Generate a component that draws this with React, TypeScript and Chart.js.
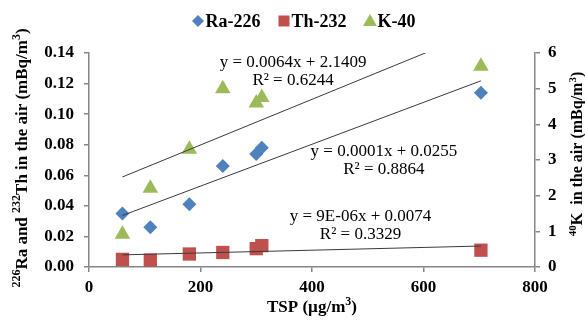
import React, { useEffect, useRef } from "react";
import { Chart, registerables } from "chart.js";

Chart.register(...registerables);

// ---- data ----
const tsp = [60, 110, 180, 240, 300, 310, 703];
const ra226 = [0.035, 0.026, 0.041, 0.066, 0.074, 0.078, 0.114];
const th232 = [0.005, 0.0045, 0.0085, 0.0095, 0.012, 0.014, 0.011];
const k40 = [0.92, 2.21, 3.3, 5.0, 4.6, 4.75, 5.63];

const seriesNames = ["Ra-226", "Th-232", "K-40"];
const xTicks = [0, 200, 400, 600, 800];
const yLeftTicks = [0, 0.02, 0.04, 0.06, 0.08, 0.1, 0.12, 0.14];
const yRightTicks = [0, 1, 2, 3, 4, 5, 6];

// fitted trendlines
const trendX = [60, 703];
const kTrend = { slope: 0.0064, intercept: 2.1409 };
const raTrend = { slope: 0.000137, intercept: 0.0255 };
const thTrend = { slope: 0.000009, intercept: 0.0074 };
const trendTexts = [
  ["y = 0.0064x + 2.1409", "R\u00B2 = 0.6244"],
  ["y = 0.0001x + 0.0255", "R\u00B2 = 0.8864"],
  ["y = 9E-06x + 0.0074", "R\u00B2 = 0.3329"],
];
// label anchor positions (x in TSP units, y in left-axis units)
const trendTextPos = [
  { x: 366, y: 0.1337 },
  { x: 529, y: 0.0755 },
  { x: 487, y: 0.033 },
];

const SERIF = "'Liberation Serif', 'Times New Roman', serif";
const COLORS = ["#4F81BD", "#C0504D", "#9BBB59"];
const AXIS = "#868686";

type Part = { t: string; sup?: boolean };
const leftTitle: Part[] = [
  { t: "226", sup: true },
  { t: "Ra and " },
  { t: "232", sup: true },
  { t: "Th in the air (mBq/m" },
  { t: "3", sup: true },
  { t: ")" },
];
const rightTitle: Part[] = [
  { t: "40", sup: true },
  { t: "K  in the air (mBq/m" },
  { t: "3", sup: true },
  { t: ")" },
];
const xTitle: Part[] = [{ t: "TSP (\u00B5g/m" }, { t: "3", sup: true }, { t: ")" }];

function drawRich(ctx: CanvasRenderingContext2D, parts: Part[], cx: number, cy: number, angle: number, size: number) {
  ctx.save();
  ctx.translate(cx, cy);
  ctx.rotate(angle);
  ctx.textBaseline = "middle";
  ctx.textAlign = "left";
  ctx.fillStyle = "#000";
  const supSize = Math.round(size * 0.68);
  let total = 0;
  const widths = parts.map((p) => {
    ctx.font = `bold ${p.sup ? supSize : size}px ${SERIF}`;
    const w = ctx.measureText(p.t).width;
    total += w;
    return w;
  });
  let x = -total / 2;
  parts.forEach((p, i) => {
    ctx.font = `bold ${p.sup ? supSize : size}px ${SERIF}`;
    ctx.fillText(p.t, x, p.sup ? -size * 0.33 : 0);
    x += widths[i];
  });
  ctx.restore();
}

function drawMarker(ctx: CanvasRenderingContext2D, kind: number, x: number, y: number) {
  ctx.beginPath();
  if (kind === 0) {
    const r = 6;
    ctx.moveTo(x, y - r);
    ctx.lineTo(x + r, y);
    ctx.lineTo(x, y + r);
    ctx.lineTo(x - r, y);
  } else if (kind === 1) {
    ctx.rect(x - 5.5, y - 5.5, 11, 11);
  } else {
    ctx.moveTo(x, y - 7);
    ctx.lineTo(x + 7, y + 5);
    ctx.lineTo(x - 7, y + 5);
  }
  ctx.closePath();
  ctx.fillStyle = COLORS[kind];
  ctx.fill();
}

const overlay = {
  id: "overlay",
  afterDraw(chart: any) {
    const ctx: CanvasRenderingContext2D = chart.ctx;
    const xs = chart.scales.x;
    const ys = chart.scales.y;
    // legend
    ctx.save();
    ctx.font = `bold 18px ${SERIF}`;
    ctx.textBaseline = "middle";
    const markerW = 13;
    const gapMT = 1;
    const gapItems = 17;
    const widths = seriesNames.map((n) => ctx.measureText(n).width);
    let total = widths.reduce((a, b) => a + b, 0) + seriesNames.length * (markerW + gapMT) + gapItems * (seriesNames.length - 1);
    let lx = 303.5 - total / 2;
    const ly = 21;
    seriesNames.forEach((n, i) => {
      drawMarker(ctx, i, lx + markerW / 2, ly);
      ctx.fillStyle = "#000";
      ctx.fillText(n, lx + markerW + gapMT, ly + 1);
      lx += markerW + gapMT + widths[i] + gapItems;
    });
    ctx.restore();

    // trend texts
    ctx.save();
    ctx.font = `17px ${SERIF}`;
    ctx.textAlign = "center";
    ctx.textBaseline = "middle";
    ctx.fillStyle = "#000";
    trendTexts.forEach((lines, i) => {
      const px = xs.getPixelForValue(trendTextPos[i].x);
      const py = ys.getPixelForValue(trendTextPos[i].y);
      lines.forEach((l, j) => ctx.fillText(l, px, py + j * 18));
    });
    ctx.restore();

    // axis titles
    drawRich(ctx, leftTitle, 23, 158, -Math.PI / 2, 17);
    drawRich(ctx, rightTitle, 578, 154, -Math.PI / 2, 16);
    drawRich(ctx, xTitle, 312, 308, 0, 17);
  },
};

function trendData(fit: { slope: number; intercept: number }) {
  return trendX.map((x) => ({ x, y: fit.slope * x + fit.intercept }));
}

export default function App() {
  const ref = useRef<HTMLCanvasElement>(null);
  useEffect(() => {
    document.body.style.margin = "0";
    const canvas = ref.current!;
    const tickFont = { family: SERIF, size: 17, weight: "bold" as const };
    const grid = { drawOnChartArea: false, drawTicks: true, tickLength: 5, color: AXIS, lineWidth: 1.5 };
    const border = { color: AXIS, width: 1.5 };
    const trendStyle = { showLine: true, borderColor: "#3a3a3a", borderWidth: 1, pointRadius: 0, fill: false, order: 0 };
    const chart = new Chart(canvas, {
      type: "scatter",
      data: {
        datasets: [
          { ...trendStyle, label: "K trend", data: trendData(kTrend), yAxisID: "y2" },
          { ...trendStyle, label: "Ra trend", data: trendData(raTrend), yAxisID: "y" },
          { ...trendStyle, label: "Th trend", data: trendData(thTrend), yAxisID: "y" },
          {
            label: seriesNames[0],
            data: tsp.map((x, i) => ({ x, y: ra226[i] })),
            yAxisID: "y",
            pointStyle: "rectRot",
            pointRadius: 7,
            backgroundColor: COLORS[0],
            borderColor: COLORS[0],
            borderWidth: 0,
            order: 1,
          },
          {
            label: seriesNames[1],
            data: tsp.map((x, i) => ({ x, y: th232[i] })),
            yAxisID: "y",
            pointStyle: "rect",
            pointRadius: 9.4,
            backgroundColor: COLORS[1],
            borderColor: COLORS[1],
            borderWidth: 0,
            order: 1,
          },
          {
            label: seriesNames[2],
            data: tsp.map((x, i) => ({ x, y: k40[i] })),
            yAxisID: "y2",
            pointStyle: "triangle",
            pointRadius: 9,
            backgroundColor: COLORS[2],
            borderColor: COLORS[2],
            borderWidth: 0,
            order: 1,
          },
        ] as any,
      },
      options: {
        animation: false,
        responsive: false,
        layout: { padding: { top: 53, left: 0, right: 0, bottom: 0 } },
        plugins: { legend: { display: false }, tooltip: { enabled: false } },
        scales: {
          x: {
            type: "linear",
            min: 0,
            max: 800,
            afterBuildTicks: (s: any) => {
              s.ticks = xTicks.map((v) => ({ value: v }));
            },
            afterFit: (s: any) => {
              s.height = 55;
            },
            ticks: { font: tickFont, color: "#000", padding: 5 },
            grid,
            border,
          },
          y: {
            type: "linear",
            position: "left",
            min: 0,
            max: 0.14,
            afterBuildTicks: (s: any) => {
              s.ticks = yLeftTicks.map((v) => ({ value: v }));
            },
            afterFit: (s: any) => {
              s.width = 89;
            },
            ticks: { font: tickFont, color: "#000", padding: 10, callback: (v: any) => Number(v).toFixed(2) },
            grid,
            border,
          },
          y2: {
            type: "linear",
            position: "right",
            min: 0,
            max: 6,
            afterBuildTicks: (s: any) => {
              s.ticks = yRightTicks.map((v) => ({ value: v }));
            },
            afterFit: (s: any) => {
              s.width = 50;
            },
            ticks: { font: tickFont, color: "#000", padding: 8 },
            grid,
            border,
          },
        } as any,
      },
      plugins: [overlay],
    });
    return () => chart.destroy();
  }, []);
  return (
    <div style={{ width: 585, height: 322 }}>
      <canvas ref={ref} width={585} height={322} style={{ display: "block" }} />
    </div>
  );
}
